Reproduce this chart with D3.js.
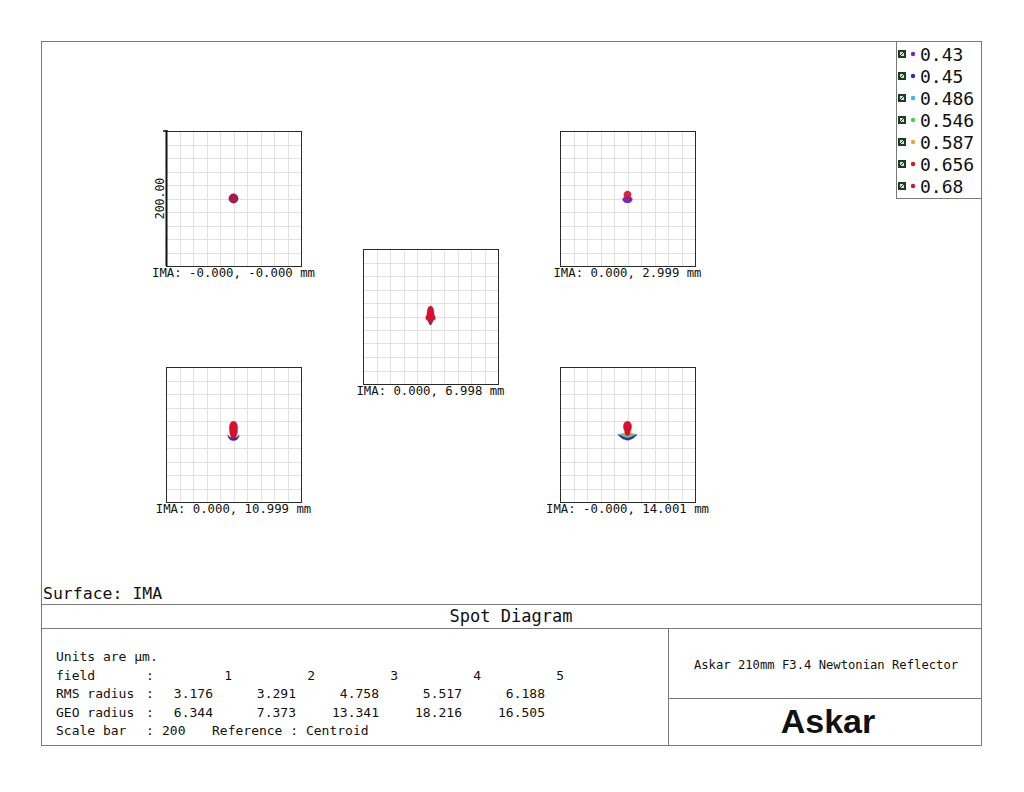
<!DOCTYPE html>
<html>
<head>
<meta charset="utf-8">
<script src="https://cdn.jsdelivr.net/npm/d3@7"></script>
<style>
  body { margin: 0; background: #fff; }
  svg { display: block; }
  text { font-family: "DejaVu Sans Mono", monospace; fill: #111; }
</style>
</head>
<body>
<svg id="chart" width="1024" height="792"></svg>
<script>
// ---------- data ----------
const wavelengths = [0.43, 0.45, 0.486, 0.546, 0.587, 0.656, 0.68];
const wlColors = ["#7a28b8", "#2c31a0", "#45b6d6", "#43d152", "#e3a348", "#e3161f", "#d41230"];
const fieldNumbers = [1, 2, 3, 4, 5];
const fieldXmm = ["-0.000", "0.000", "0.000", "0.000", "-0.000"];
const fieldYmm = ["-0.000", "2.999", "6.998", "10.999", "14.001"];
const rmsRadius = ["3.176", "3.291", "4.758", "5.517", "6.188"];
const geoRadius = ["6.344", "7.373", "13.341", "18.216", "16.505"];
const scaleBar = 200;              // µm, full box width
const scaleLabel = "200.00";
const gridDivisions = 10;

// spot outlines, µm relative to centroid (y up), one entry per wavelength layer
const spotField1 = [
  { w: 1, pts: [[6.9,0],[4.9,4.9],[0,6.9],[-4.9,4.9],[-6.9,0],[-4.9,-4.9],[0,-6.9],[4.9,-4.9]] },
  { w: 6, pts: [[6.2,0.2],[4.4,4.6],[0,6.4],[-4.4,4.6],[-6.2,0.2],[-4.4,-4.2],[0,-6.0],[4.4,-4.2]], op: 0.8 }
];
const spotField2 = [
  { w: 0, pts: [[7.2,-1.5],[5.1,2],[0,3.5],[-5.1,2],[-7.2,-1.5],[-5.1,-5],[0,-6.5],[5.1,-5]] },
  { w: 6, pts: [[5.4,5.5],[3.8,9.5],[0,11.2],[-3.8,9.5],[-5.4,5.5],[-3.8,1.6],[0,0.2],[3.8,1.6]], op: 0.92 }
];
const spotField3 = [
  { w: 1, pts: [[-4,-4.5],[4,-4.5],[2,-10],[0,-12.8],[-2,-10]] },
  { w: 6, pts: [[0,15.5],[3.2,13.5],[4.8,9],[5.3,3],[7,-1.5],[6.5,-4.5],[3.2,-6],[1.6,-9.5],[0,-11.2],[-1.6,-9.5],[-3.2,-6],[-6.5,-4.5],[-7,-1.5],[-5.3,3],[-4.8,9],[-3.2,13.5]] }
];
const spotField4 = [
  { w: 1, pts: [[-8.5,-1],[-6,-6.5],[0,-9],[6,-6.5],[8.5,-1],[5,-4],[0,-5],[-5,-4]] },
  { w: 6, pts: [[0,19.5],[3.7,18],[5.8,13],[5.8,5],[4.7,-1],[2.6,-5],[0,-6],[-2.6,-5],[-4.7,-1],[-5.8,5],[-5.8,13],[-3.7,18]] }
];
const spotField5 = [
  { w: 1, pts: [[-14,0],[-9,-5],[-4,-7.5],[0,-8.5],[4,-7.5],[9,-5],[14,0],[10,-1],[5,-3.5],[0,-4.5],[-5,-3.5],[-10,-1]] },
  { w: 2, pts: [[-11,1],[-5,-3.5],[0,-4.5],[5,-3.5],[11,1],[7,-0.5],[0,-2.5],[-7,-0.5]] },
  { w: 3, pts: [[-9,1.5],[-4,-2.5],[0,-3.5],[4,-2.5],[9,1.5],[5,0.5],[0,-1.5],[-5,0.5]] },
  { w: 4, pts: [[-7,2],[-3,-1.5],[0,-2.5],[3,-1.5],[7,2],[3,1.5],[0,0],[-3,1.5]] },
  { w: 6, pts: [[0,19.5],[3.7,18.3],[5.8,14],[5.8,9],[4.2,5],[3.7,1],[2,-1],[-2,-1],[-3.7,1],[-4.2,5],[-5.8,9],[-5.8,14],[-3.7,18.3]] }
];
const spots = [spotField1, spotField2, spotField3, spotField4, spotField5];

const legendTitle = "Spot Diagram";
const surfaceLabel = "Surface: IMA";
const titleBlock = "Askar 210mm F3.4 Newtonian Reflector";
const brand = "Askar";

// ---------- layout ----------
const svg = d3.select("#chart");
const BOX = 135;
const boxPos = [[166,131],[560,131],[363,249],[166,367],[560,367]];

// frame
const frame = svg.append("g").attr("stroke", "#7a7a7a").attr("fill", "none").attr("stroke-width", 1);
frame.append("rect").attr("x", 41.5).attr("y", 41.5).attr("width", 940).attr("height", 704);
frame.append("line").attr("x1", 41).attr("x2", 981).attr("y1", 604.5).attr("y2", 604.5);
frame.append("line").attr("x1", 41).attr("x2", 981).attr("y1", 628.5).attr("y2", 628.5);
frame.append("line").attr("x1", 668.5).attr("x2", 668.5).attr("y1", 628).attr("y2", 745);
frame.append("line").attr("x1", 668).attr("x2", 981).attr("y1", 698.5).attr("y2", 698.5);
frame.append("rect").attr("x", 896.5).attr("y", 41.5).attr("width", 85).attr("height", 157);

const lineGen = d3.line().curve(d3.curveCatmullRomClosed.alpha(0.5));

fieldNumbers.forEach((f, i) => {
  const [bx, by] = boxPos[i];
  const x = d3.scaleLinear().domain([-scaleBar/2, scaleBar/2]).range([bx, bx + BOX]);
  const y = d3.scaleLinear().domain([-scaleBar/2, scaleBar/2]).range([by + BOX, by]);
  const g = svg.append("g");
  const ticks = d3.range(1, gridDivisions).map(k => -scaleBar/2 + k * scaleBar / gridDivisions);
  g.selectAll(".gx").data(ticks).join("line")
    .attr("x1", d => Math.round(x(d)) + 0.5).attr("x2", d => Math.round(x(d)) + 0.5)
    .attr("y1", by).attr("y2", by + BOX).attr("stroke", "#e2e2e2");
  g.selectAll(".gy").data(ticks).join("line")
    .attr("y1", d => Math.round(y(d)) + 0.5).attr("y2", d => Math.round(y(d)) + 0.5)
    .attr("x1", bx).attr("x2", bx + BOX).attr("stroke", "#e2e2e2");
  g.append("rect").attr("x", bx + 0.5).attr("y", by + 0.5).attr("width", BOX).attr("height", BOX)
    .attr("fill", "none").attr("stroke", "#2a2a2a");

  spots[i].forEach(layer => {
    g.append("path")
      .attr("d", lineGen(layer.pts.map(p => [x(p[0]), y(p[1])])))
      .attr("fill", wlColors[layer.w])
      .attr("fill-opacity", layer.op || 1)
      .attr("stroke", wlColors[layer.w])
      .attr("stroke-width", 0.6)
      .attr("stroke-opacity", 0.7);
  });

  g.append("text")
    .attr("x", bx + BOX / 2).attr("y", by + BOX + 11)
    .attr("text-anchor", "middle").attr("font-size", 12.3)
    .text(`IMA: ${fieldXmm[i]}, ${fieldYmm[i]} mm`);

  if (i === 0) {
    g.append("line").attr("x1", bx + 0.5).attr("x2", bx + 0.5).attr("y1", by - 1).attr("y2", by + BOX)
      .attr("stroke", "#111").attr("stroke-width", 2);
    g.append("line").attr("x1", bx - 3).attr("x2", bx + 1).attr("y1", by).attr("y2", by)
      .attr("stroke", "#111").attr("stroke-width", 1.5);
    g.append("text")
      .attr("transform", `translate(${bx - 2},${y(0)}) rotate(-90)`)
      .attr("text-anchor", "middle").attr("font-size", 11.5)
      .text(scaleLabel);
  }
});

// legend
const lg = svg.append("g");
wavelengths.forEach((w, i) => {
  const cy = 54 + i * 22;
  lg.append("rect").attr("x", 898.5).attr("y", cy - 3.5).attr("width", 7).attr("height", 7)
    .attr("fill", "#1f3d26").attr("stroke", "#1f3d26");
  lg.append("rect").attr("x", 900).attr("y", cy - 2).attr("width", 4).attr("height", 4).attr("fill", "#cfe6d2");
  lg.append("line").attr("x1", 900).attr("y1", cy + 2).attr("x2", 904).attr("y2", cy - 2).attr("stroke", "#1f3d26").attr("stroke-width", 1);
  lg.append("circle").attr("cx", 913).attr("cy", cy).attr("r", 2.2).attr("fill", wlColors[i]);
  lg.append("text").attr("x", 920).attr("y", cy + 6.5).attr("font-size", 18).text(String(w));
});

// labels
svg.append("text").attr("x", 43).attr("y", 599).attr("font-size", 16.5).text(surfaceLabel);
svg.append("text").attr("x", 511).attr("y", 622).attr("text-anchor", "middle").attr("font-size", 17).text(legendTitle);

const fs = 13;
const rows = [661, 679.5, 698, 716.5, 735];
const colRight = [213, 296, 379, 462, 545];
svg.append("text").attr("x", 56).attr("y", rows[0]).attr("font-size", fs).text("Units are \u00b5m.");
["field", "RMS radius", "GEO radius", "Scale bar"].forEach((t, k) => {
  svg.append("text").attr("x", 56).attr("y", rows[k + 1]).attr("font-size", fs).text(t);
  svg.append("text").attr("x", 146).attr("y", rows[k + 1]).attr("font-size", fs).text(":");
});
fieldNumbers.forEach((f, i) => {
  svg.append("text").attr("x", colRight[i] + 19).attr("y", rows[1]).attr("text-anchor", "end").attr("font-size", fs).text(f);
  svg.append("text").attr("x", colRight[i]).attr("y", rows[2]).attr("text-anchor", "end").attr("font-size", fs).text(rmsRadius[i]);
  svg.append("text").attr("x", colRight[i]).attr("y", rows[3]).attr("text-anchor", "end").attr("font-size", fs).text(geoRadius[i]);
});
svg.append("text").attr("x", 162).attr("y", rows[4]).attr("font-size", fs).text(String(scaleBar));
svg.append("text").attr("x", 212).attr("y", rows[4]).attr("font-size", fs).text("Reference : Centroid");

svg.append("text").attr("x", 826).attr("y", 669).attr("text-anchor", "middle").attr("font-size", 12.2).text(titleBlock);
svg.append("text").attr("x", 828).attr("y", 733).attr("text-anchor", "middle")
  .attr("font-weight", "bold").attr("font-size", 34)
  .style("font-family", "'Liberation Sans', Arial, sans-serif").text(brand);
</script>
</body>
</html>
